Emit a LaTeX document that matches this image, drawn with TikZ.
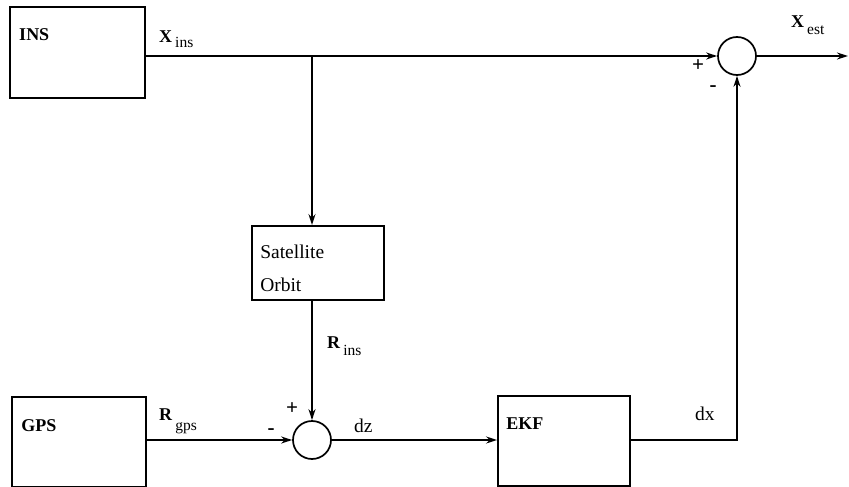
\documentclass[tikz,border=0pt]{standalone}
\usepackage{fontspec}
\setmainfont{Liberation Serif}
\usepackage{tikz}
\usetikzlibrary{arrows.meta,positioning,calc}
\newcommand{\mainsz}{\fontsize{18}{21}\selectfont}
\newcommand{\txtsz}{\fontsize{19.5}{22}\selectfont}
\newcommand{\subsz}{\fontsize{15.5}{18}\selectfont}
% signal name: bold letter with a lowered subscript
\newcommand{\sig}[3]{\textbf{#1}\,\raisebox{-#3}{\subsz #2}}
\tikzset{
  blk/.style={rectangle,draw=black,line width=1.9pt,fill=white,inner sep=0pt},
  sumnode/.style={circle,draw=black,line width=1.7pt,minimum size=38pt,inner sep=0pt},
  boxtxt/.style={anchor=base west,inner sep=0pt,font=\mainsz},
  lbl/.style={anchor=base west,inner sep=0pt,font=\mainsz},
  sgn/.style={inner sep=0pt,font=\bfseries\fontsize{21}{24}\selectfont},
  flow/.style={-{Stealth[length=11pt,width=7pt]},line width=1.6pt},
}

\begin{document}
\begin{tikzpicture}[x=1pt,y=-1pt]
  \useasboundingbox (0,0) rectangle (849,487);
  % blocks
  \node[blk,minimum width=135pt,minimum height=91pt] (ins) at (77.5,52.5) {};
  \node[boxtxt] (insTxt) at ([xshift=10pt,yshift=-34pt]ins.north west) {\textbf{INS}};
  \node[blk,minimum width=132pt,minimum height=74pt] (sat) at (318,263) {};
  \node[boxtxt,font=\txtsz] (satTxt) at ([xshift=9pt,yshift=-33pt]sat.north west) {Satellite};
  \node[boxtxt,font=\txtsz] (orbTxt) at ([yshift=-33pt]satTxt.base west) {Orbit};
  \node[blk,minimum width=134pt,minimum height=90pt] (gps) at (79,442) {};
  \node[boxtxt] (gpsTxt) at ([xshift=10pt,yshift=-35pt]gps.north west) {\textbf{GPS}};
  \node[blk,minimum width=132pt,minimum height=90pt] (ekf) at (564,441) {};
  \node[boxtxt] (ekfTxt) at ([xshift=9pt,yshift=-34pt]ekf.north west) {\textbf{EKF}};
  % summing points
  \node[sumnode] (sumTop) at (737,56) {};
  \node[sumnode] (sumBot) at (312,440) {};
  \coordinate (split) at (sumBot |- sumTop);
  \coordinate (xout) at (848,56);
  % connectors
  \draw[flow] (ins.east |- sumTop.west) -- (sumTop.west);
  \draw[flow] (split) -- (sat.north -| split);
  \draw[flow] (sat.south -| sumBot) -- (sumBot.north);
  \draw[flow] (gps.east |- sumBot.west) -- (sumBot.west);
  \draw[flow] (sumBot.east) -- (ekf.west |- sumBot.east);
  \draw[flow] (ekf.east |- sumBot.east) -| (sumTop.south);
  \draw[flow] (sumTop.east) -- (xout);
  % labels
  \node[lbl] (xIns) at (159,43) {\sig{X}{ins}{5pt}};
  \node[lbl] (xEst) at (791,28) {\sig{X}{est}{7pt}};
  \node[lbl] (rIns) at (327,348) {\sig{R}{ins}{7pt}};
  \node[lbl] (rGps) at (159,420) {\sig{R}{gps}{10pt}};
  \node[lbl,font=\txtsz] (dz) at (354,432) {dz};
  \node[lbl,font=\txtsz] (dx) at (695,420) {dx};
  \node[sgn] (pTop) at (698,66) {+};
  \node[sgn] (mTop) at (713,89) {-};
  \node[sgn] (pBot) at (292,409) {+};
  \node[sgn] (mBot) at (271,432) {-};
\end{tikzpicture}
\end{document}
